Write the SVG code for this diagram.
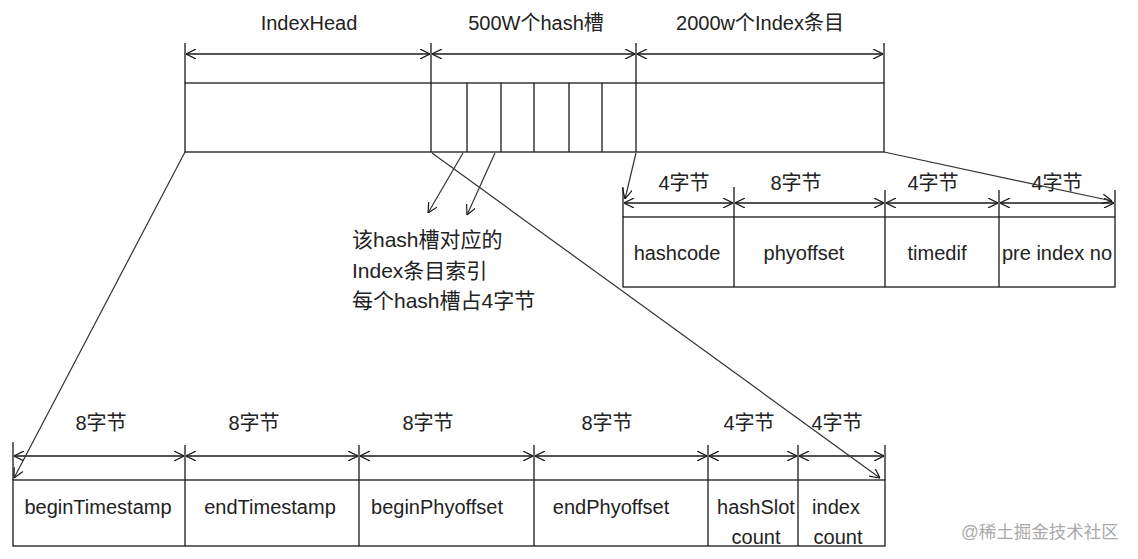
<svg xmlns="http://www.w3.org/2000/svg" width="1138" height="559" viewBox="0 0 1138 559">
<style>
.ln{stroke:#1a1a1a;stroke-width:1.3;fill:none}
.dim{stroke:#1a1a1a;stroke-width:1.3;fill:none;marker-start:url(#ah);marker-end:url(#ah)}
.con{stroke:#333;stroke-width:1.2;fill:none;marker-end:url(#ah)}
.box{stroke:#1a1a1a;stroke-width:1.3;fill:#fff}
text{font-family:"Liberation Sans","Noto Sans CJK SC",sans-serif;font-size:20px;fill:#222}
.c{text-anchor:middle}
.n{font-size:21px}
.wm{font-size:17.5px;fill:#aaa}
</style>
<defs>
<marker id="ah" viewBox="0 0 10 10" refX="10" refY="5" markerWidth="10" markerHeight="10" markerUnits="userSpaceOnUse" orient="auto-start-reverse">
<path d="M0,0 L10,5 L0,10" fill="none" stroke="#1a1a1a" stroke-width="1.2"/>
</marker>
</defs>
<rect width="1138" height="559" fill="#fff"/>

<g id="indexfile">
<rect class="box" x="185" y="83" width="699" height="69"/>
<path class="ln" d="M185,43V83 M431,43V152 M636,43V152 M884,43V83 M467,83V152 M501,83V152 M534,83V152 M569,83V152 M602,83V152"/>
<path class="dim" d="M186,54H430"/>
<path class="dim" d="M432,54H635"/>
<path class="dim" d="M637,54H883"/>
<text class="c" x="309" y="30">IndexHead</text>
<text class="c" x="536" y="30">500W个hash槽</text>
<text class="c" x="760" y="30">2000w个Index条目</text>
</g>

<g id="indexentry">
<rect class="box" x="623" y="217" width="492" height="70"/>
<path class="ln" d="M623,187V217 M734,187V287 M885,190V287 M999,190V287 M1115,190V217"/>
<path class="dim" d="M624,203H733"/>
<path class="dim" d="M735,203H884"/>
<path class="dim" d="M886,203H998"/>
<path class="dim" d="M1000,203H1114"/>
<text class="c" x="684" y="190">4字节</text>
<text class="c" x="796" y="190">8字节</text>
<text class="c" x="933" y="190">4字节</text>
<text class="c" x="1057" y="190">4字节</text>
<text class="c" x="677" y="260">hashcode</text>
<text class="c" x="804" y="260">phyoffset</text>
<text class="c" x="937" y="260">timedif</text>
<text class="c" x="1057" y="260">pre index no</text>
</g>

<g id="indexhead">
<rect class="box" x="13" y="480" width="872" height="66"/>
<path class="ln" d="M13,442V480 M185,445V546 M359,445V546 M534,445V546 M708,445V546 M798,445V546 M885,445V480"/>
<path class="dim" d="M14,456H184"/>
<path class="dim" d="M186,456H358"/>
<path class="dim" d="M360,456H533"/>
<path class="dim" d="M535,456H707"/>
<path class="dim" d="M709,456H797"/>
<path class="dim" d="M799,456H884"/>
<text class="c" x="101" y="430">8字节</text>
<text class="c" x="254" y="430">8字节</text>
<text class="c" x="428" y="430">8字节</text>
<text class="c" x="607" y="430">8字节</text>
<text class="c" x="749" y="430">4字节</text>
<text class="c" x="837" y="430">4字节</text>
<text class="c" x="98" y="514">beginTimestamp</text>
<text class="c" x="270" y="514">endTimestamp</text>
<text class="c" x="437" y="514">beginPhyoffset</text>
<text class="c" x="611" y="514">endPhyoffset</text>
<text class="c" x="756" y="514">hashSlot</text>
<text class="c" x="756" y="544">count</text>
<text class="c" x="836" y="514">index</text>
<text class="c" x="838" y="544">count</text>
</g>

<g id="note">
<text class="n" x="352" y="247">该hash槽对应的</text>
<text class="n" x="352" y="278">Index条目索引</text>
<text class="n" x="352" y="308">每个hash槽占4字节</text>
</g>

<g id="connectors">
<path class="con" d="M636,153L625,199"/>
<path class="con" d="M884,152L1112,201"/>
<path class="con" d="M185,152L14,478"/>
<path class="con" d="M432,153L880,478"/>
<path class="con" d="M463,153L428,213"/>
<path class="con" d="M495,153L467,215"/>
</g>

<text class="wm" x="961" y="538">@稀土掘金技术社区</text>
</svg>
